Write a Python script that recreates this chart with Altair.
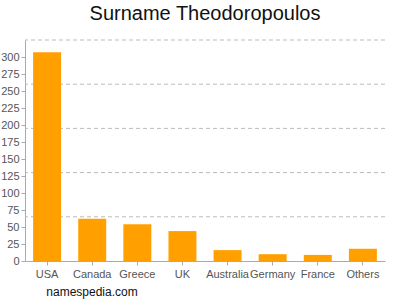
import altair as alt
import pandas as pd

countries = ["USA", "Canada", "Greece", "UK", "Australia", "Germany", "France", "Others"]
counts = [307, 62, 54, 44, 16, 10, 9, 18]
grid_values = [65, 130, 195, 260, 325]
y_ticks = list(range(0, 301, 25))

df = pd.DataFrame({"country": countries, "count": counts})
gdf = pd.DataFrame({"g": grid_values})

x_enc = alt.X("country:N", sort=countries, title=None,
              scale=alt.Scale(paddingInner=0.38, paddingOuter=0.18),
              axis=alt.Axis(labelAngle=0, labelColor="#555555", labelFontSize=11,
                            labelFont="Liberation Sans", domainColor="#aaaaaa",
                            tickColor="#aaaaaa", tickSize=4, labelPadding=3))

y_axis = alt.Axis(values=y_ticks, grid=False, labelColor="#555555",
                  labelFontSize=11, labelFont="Liberation Sans",
                  domainColor="#aaaaaa", tickColor="#aaaaaa", tickSize=4,
                  labelPadding=2, labelOverlap=False)

grid = alt.Chart(gdf).mark_rule(color="#bbbbbb", strokeDash=[4, 3], strokeWidth=1).encode(
    y=alt.Y("g:Q", title=None, scale=alt.Scale(domain=[0, 325], nice=False), axis=y_axis),
)

bars = alt.Chart(df).mark_bar(color="#ffa000").encode(
    x=x_enc,
    y=alt.Y("count:Q", title=None,
            scale=alt.Scale(domain=[0, 325], nice=False), axis=y_axis),
)

credit = alt.Chart(pd.DataFrame({"t": ["namespedia.com"]})).mark_text(
    font="Liberation Sans", fontSize=12, color="#111111", align="center"
).encode(x=alt.value(67), y=alt.value(252), text="t:N")

chart = alt.layer(grid, bars, credit).properties(
    width=360, height=221,
    padding={"left": 25, "top": 40, "right": 15, "bottom": 39},
    autosize="none",
    title=alt.TitleParams("Surname Theodoropoulos", font="Liberation Sans",
                          fontSize=20, fontWeight="normal", color="#111111",
                          anchor="middle", offset=16),
).configure_view(stroke=None)

chart.save("out.html", embed_options={"renderer": "svg", "actions": False})
